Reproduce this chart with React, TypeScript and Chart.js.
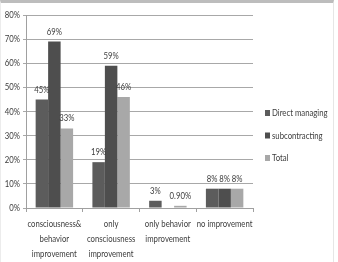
import React, { useEffect, useRef } from "react";
import { Chart, registerables } from "chart.js";

Chart.register(...registerables);

const categories: string[][] = [
  ["consciousness&", "behavior", "improvement"],
  ["only", "consciousness", "improvement"],
  ["only behavior", "improvement"],
  ["no improvement"],
];
const seriesNames = ["Direct managing", "subcontracting", "Total"];
const directManaging = [45, 19, 3, 8];
const subcontracting = [69, 59, 0, 8];
const total = [33, 46, 0.9, 8];
const directLabels = ["45%", "19%", "3%", "8%"];
const subLabels = ["69%", "59%", "", "8%"];
const totalLabels = ["33%", "46%", "0.90%", "8%"];
const yTicks = [0, 10, 20, 30, 40, 50, 60, 70, 80];

const colors = ["#5c5c5c", "#4e4e4e", "#a8a8a8"];
const FONT = "Lato, 'Liberation Sans', sans-serif";
const TEXT = "#3c3c3c";
const SIZE = 9.5;

function narrowText(
  ctx: CanvasRenderingContext2D,
  text: string,
  x: number,
  y: number,
  align: "left" | "center" | "right",
  sx: number
) {
  ctx.save();
  ctx.translate(x, y);
  ctx.scale(sx, 1);
  ctx.textAlign = align;
  ctx.textBaseline = "middle";
  ctx.fillText(text, 0, 0);
  ctx.restore();
}

export default function App() {
  const ref = useRef<HTMLCanvasElement | null>(null);
  useEffect(() => {
    document.body.style.margin = "0";
    const canvas = ref.current!;
    const allLabels = [directLabels, subLabels, totalLabels];
    let sx = 0.85;
    {
      const c = canvas.getContext("2d")!;
      c.font = `${SIZE}px ${FONT}`;
      const w = c.measureText("consciousness&").width;
      if (w > 0) sx = 54 / w;
    }

    const textPlugin = {
      id: "narrowTexts",
      afterDraw(chart: any) {
        const ctx = chart.ctx as CanvasRenderingContext2D;
        const area = chart.chartArea;
        ctx.save();
        ctx.font = `${SIZE}px ${FONT}`;
        ctx.fillStyle = TEXT;
        // value labels
        chart.data.datasets.forEach((ds: any, i: number) => {
          const meta = chart.getDatasetMeta(i);
          meta.data.forEach((bar: any, j: number) => {
            const t = allLabels[i][j];
            if (!t) return;
            narrowText(ctx, t, bar.x, bar.y - 10, "center", sx);
          });
        });
        // x labels
        const xs = chart.scales.x;
        categories.forEach((lines, j) => {
          const cx = xs.getPixelForValue(j);
          lines.forEach((ln, k) => {
            narrowText(ctx, ln, cx, area.bottom + 16 + k * 15, "center", sx);
          });
        });
        // y labels
        const ys = chart.scales.y;
        yTicks.forEach((v) => {
          narrowText(ctx, `${v}%`, area.left - 6, ys.getPixelForValue(v), "right", sx);
        });
        // legend
        const x0 = area.right + 12;
        const y0 = 113;
        seriesNames.forEach((n, i) => {
          const y = y0 + i * 22.5;
          ctx.fillStyle = colors[i];
          ctx.fillRect(x0, y - 3, 5, 6);
          ctx.fillStyle = TEXT;
          narrowText(ctx, n, x0 + 7, y, "left", sx);
        });
        ctx.restore();
      },
    };

    const chart = new Chart(canvas, {
      type: "bar",
      data: {
        labels: categories.map((c) => c.join(" ")),
        datasets: [
          { label: seriesNames[0], data: directManaging, backgroundColor: colors[0] },
          { label: seriesNames[1], data: subcontracting, backgroundColor: colors[1] },
          { label: seriesNames[2], data: total, backgroundColor: colors[2] },
        ],
      },
      options: {
        animation: false,
        responsive: false,
        maintainAspectRatio: false,
        devicePixelRatio: 1,
        layout: { padding: { top: 15, right: 85, left: 0, bottom: 0 } },
        datasets: { bar: { categoryPercentage: 0.66, barPercentage: 1 } },
        plugins: { legend: { display: false }, tooltip: { enabled: false } },
        scales: {
          x: {
            grid: { drawOnChartArea: false, drawTicks: true, tickLength: 4, color: "#a0a0a0", offset: true },
            border: { display: true, color: "#a0a0a0" },
            ticks: { display: false, autoSkip: false },
            afterFit: (s: any) => {
              s.height = 54;
            },
          },
          y: {
            min: 0,
            max: 80,
            afterBuildTicks: (s: any) => {
              s.ticks = yTicks.map((v) => ({ value: v }));
            },
            grid: { color: "#a8a8a8", tickLength: 3, drawTicks: true },
            border: { display: true, color: "#a0a0a0" },
            ticks: { display: false },
            afterFit: (s: any) => {
              s.width = 26;
            },
          },
        },
      },
      plugins: [textPlugin],
    });
    return () => chart.destroy();
  }, []);

  return (
    <div style={{ position: "absolute", left: 0, top: 0, width: 338, height: 262, background: "#fff" }}>
      <canvas ref={ref} width={338} height={262} style={{ display: "block", width: 338, height: 262 }} />
      <div
        style={{
          position: "absolute",
          left: 0,
          top: 0,
          width: 334,
          height: 262,
          borderTop: "3px solid #bdbdbd",
          borderRight: "1px solid #e6e6e6",
          borderLeft: "1px solid #ececec",
          boxSizing: "border-box",
          pointerEvents: "none",
        }}
      />
    </div>
  );
}
